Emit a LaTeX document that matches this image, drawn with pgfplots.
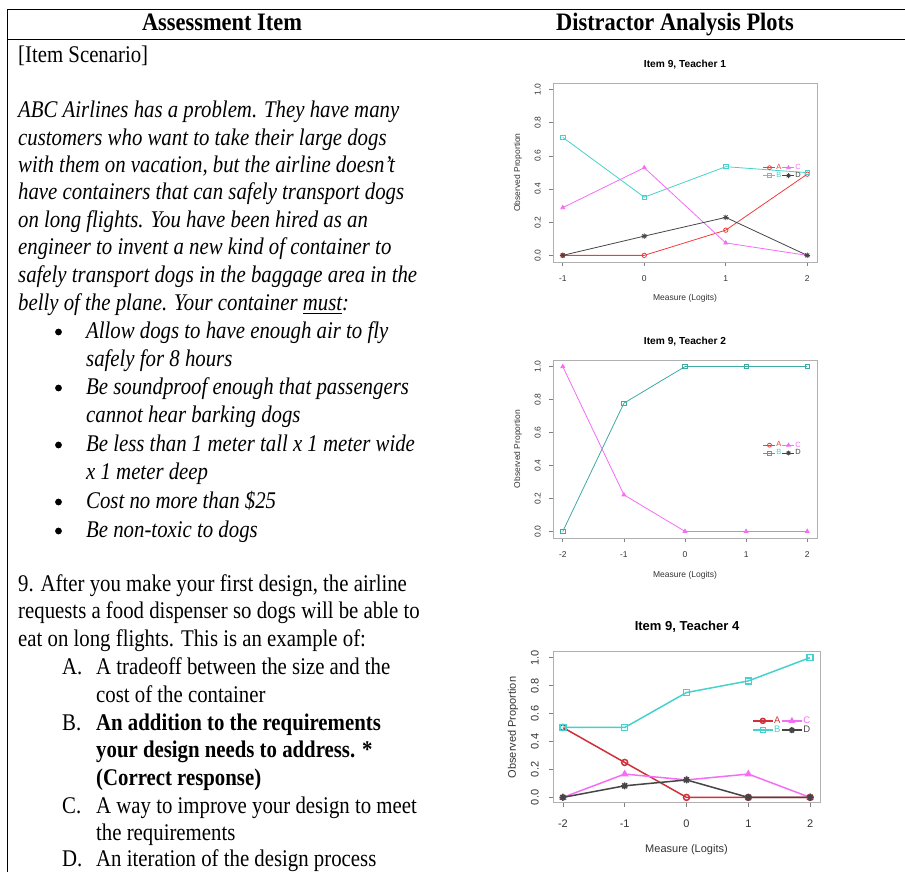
\documentclass[border=0pt]{standalone}
\usepackage{pgfplots}
\pgfplotsset{compat=1.18}
\usepackage{fontspec}
\setmainfont{Liberation Serif}
\setsansfont{Liberation Sans}

\definecolor{colA}{HTML}{F03C3C}
\definecolor{colAdark}{HTML}{D0303A}
\definecolor{colB}{HTML}{45D2CC}
\definecolor{colBdark}{HTML}{3FAAA2}
\definecolor{colC}{HTML}{F56CF5}
\definecolor{colD}{HTML}{454545}
\definecolor{boxgray}{HTML}{B0B0B0}
\definecolor{tickgray}{HTML}{808080}
\definecolor{labgray}{HTML}{333333}

% R-style asterisk (pch = 8)
\pgfdeclareplotmark{rstar}{%
  \pgfpathmoveto{\pgfqpoint{-\pgfplotmarksize}{0pt}}\pgfpathlineto{\pgfqpoint{\pgfplotmarksize}{0pt}}%
  \pgfpathmoveto{\pgfqpoint{0pt}{-\pgfplotmarksize}}\pgfpathlineto{\pgfqpoint{0pt}{\pgfplotmarksize}}%
  \pgfpathmoveto{\pgfqpoint{-0.707\pgfplotmarksize}{-0.707\pgfplotmarksize}}\pgfpathlineto{\pgfqpoint{0.707\pgfplotmarksize}{0.707\pgfplotmarksize}}%
  \pgfpathmoveto{\pgfqpoint{-0.707\pgfplotmarksize}{0.707\pgfplotmarksize}}\pgfpathlineto{\pgfqpoint{0.707\pgfplotmarksize}{-0.707\pgfplotmarksize}}%
  \pgfusepathqstroke}

\newcommand{\T}[1]{\scalebox{1}[1.15]{#1}}
\newcommand{\bodyfont}{\fontsize{20.8}{25}\selectfont}

\pgfplotsset{
  rplot/.style={
    scale only axis,
    axis line style={boxgray, line width=0.8pt},
    tick style={color=tickgray, line width=0.6pt},
    tick align=outside,
    tick pos=left,
    major tick length=4pt,
    ymin=-0.04, ymax=1.04,
    ytick={0,0.2,0.4,0.6,0.8,1.0},
    tick label style={text=labgray},
    yticklabel style={/pgf/number format/fixed, /pgf/number format/fixed zerofill,
      /pgf/number format/precision=1, /pgf/number format/assume math mode=true},
    xticklabel style={/pgf/number format/assume math mode=true},
    yticklabel style={rotate=90, anchor=south, inner sep=0pt},
    xticklabel style={anchor=north, inner sep=0pt},
    label style={text=labgray},
    title style={text=black, yshift=-8pt, anchor=center},
    legend style={draw=none, fill=none, inner sep=0pt, text=black,
      nodes={inner sep=0.6pt}},
    legend columns=2,
    clip=false,
  },
}

\begin{document}
\begin{tikzpicture}
\path[use as bounding box] (0pt,0pt) rectangle (905pt,872pt);

% table rules
\draw[line width=1pt] (7pt,862pt) -- (905pt,862pt);
\draw[line width=1pt] (7pt,832pt) -- (905pt,832pt);
\draw[line width=1pt] (7pt,862pt) -- (7pt,0pt);

\begin{scope}[x=1pt, y=1pt, every node/.style={inner sep=0pt}]
% header
\node[anchor=base] at (222,841) {\scalebox{1}[1.12]{\fontsize{22.4}{26}\selectfont\bfseries Assessment Item}};
\node[anchor=base] at (675,841) {\scalebox{1}[1.12]{\fontsize{22.4}{26}\selectfont\bfseries Distractor Analysis Plots}};

% scenario
\node[anchor=base west] at (18,809) {\T{\bodyfont [Item Scenario]}};
\node[anchor=base west] at (18,754) {\T{\bodyfont\itshape ABC Airlines has a problem. They have many}};
\node[anchor=base west] at (18,726) {\T{\bodyfont\itshape customers who want to take their large dogs}};
\node[anchor=base west] at (18,699) {\T{\bodyfont\itshape with them on vacation, but the airline doesn’t}};
\node[anchor=base west] at (18,672) {\T{\bodyfont\itshape have containers that can safely transport dogs}};
\node[anchor=base west] at (18,644) {\T{\bodyfont\itshape on long flights. You have been hired as an}};
\node[anchor=base west] at (18,617) {\T{\bodyfont\itshape engineer to invent a new kind of container to}};
\node[anchor=base west] at (18,589) {\T{\bodyfont\itshape safely transport dogs in the baggage area in the}};
\node[anchor=base west] at (18,561) {\T{\bodyfont\itshape belly of the plane. Your container \underline{must}:}};

% requirements
\foreach \yy in {540,484,427,370,341}
  \fill (58.5pt,\yy pt) circle (3.4pt);
\node[anchor=base west] at (86,533) {\T{\bodyfont\itshape Allow dogs to have enough air to fly}};
\node[anchor=base west] at (86,505) {\T{\bodyfont\itshape safely for 8 hours}};
\node[anchor=base west] at (86,477) {\T{\bodyfont\itshape Be soundproof enough that passengers}};
\node[anchor=base west] at (86,449) {\T{\bodyfont\itshape cannot hear barking dogs}};
\node[anchor=base west] at (86,420) {\T{\bodyfont\itshape Be less than 1 meter tall x 1 meter wide}};
\node[anchor=base west] at (86,392) {\T{\bodyfont\itshape x 1 meter deep}};
\node[anchor=base west] at (86,363) {\T{\bodyfont\itshape Cost no more than \$25}};
\node[anchor=base west] at (86,334) {\T{\bodyfont\itshape Be non-toxic to dogs}};

% question
\node[anchor=base west] at (18,280) {\T{\bodyfont 9. After you make your first design, the airline}};
\node[anchor=base west] at (18,253) {\T{\bodyfont requests a food dispenser so dogs will be able to}};
\node[anchor=base west] at (18,225) {\T{\bodyfont eat on long flights. This is an example of:}};

% options
\node[anchor=base west] at (62,197) {\T{\bodyfont A.}};
\node[anchor=base west] at (96,197) {\T{\bodyfont A tradeoff between the size and the}};
\node[anchor=base west] at (96,169) {\T{\bodyfont cost of the container}};
\node[anchor=base west] at (62,141) {\T{\bodyfont B.}};
\node[anchor=base west] at (96,141) {\T{\bodyfont\bfseries An addition to the requirements}};
\node[anchor=base west] at (96,114) {\T{\bodyfont\bfseries your design needs to address. *}};
\node[anchor=base west] at (96,86) {\T{\bodyfont\bfseries (Correct response)}};
\node[anchor=base west] at (62,58) {\T{\bodyfont C.}};
\node[anchor=base west] at (96,58) {\T{\bodyfont A way to improve your design to meet}};
\node[anchor=base west] at (96,31) {\T{\bodyfont the requirements}};
\node[anchor=base west] at (62,5.5) {\T{\bodyfont D.}};
\node[anchor=base west] at (96,5.5) {\T{\bodyfont An iteration of the design process}};
\end{scope}

% ---------- Item 9, Teacher 1 ----------
\begin{axis}[rplot,
  at={(553pt,610pt)}, anchor=south west, width=264pt, height=179pt,
  xmin=-1.12, xmax=2.12, xtick={-1,0,1,2},
  tick label style={font=\sffamily\fontsize{8.5}{9}\selectfont},
  label style={font=\sffamily\fontsize{8.5}{9}\selectfont},
  title style={font=\sffamily\bfseries\fontsize{10.2}{11}\selectfont, at={(axis description cs:0.5,1.112)}},
  title={Item 9, Teacher 1},
  xlabel={Measure (Logits)}, ylabel={Observed Proportion},
  xlabel style={at={(axis description cs:0.5,-0.201)}, anchor=center},
  ylabel style={at={(axis description cs:-0.1326,0.5)}, anchor=center},
  xticklabel shift=9pt, yticklabel shift=8pt,
  legend style={at={(axis description cs:0.795,0.55)}, anchor=north west,
    font=\sffamily\fontsize{7.5}{8}\selectfont},
  legend image code/.code={\draw[mark repeat=2,mark phase=2] plot coordinates {(0pt,0pt)(6pt,0pt)(12pt,0pt)};},
  every axis plot/.append style={line width=0.8pt, mark size=2.2pt, mark options={solid}},
]
\addplot[colA, mark=o, forget plot] coordinates {(-1,0) (0,0) (1,0.152) (2,0.49)};
\addplot[colB, mark=square, forget plot] coordinates {(-1,0.712) (0,0.351) (1,0.535) (2,0.499)};
\addplot[colC, mark=triangle*, forget plot] coordinates {(-1,0.288) (0,0.529) (1,0.075) (2,0)};
\addplot[colD, mark=rstar, mark size=2.8pt, forget plot] coordinates {(-1,0) (0,0.116) (1,0.229) (2,0)};
\addlegendimage{colA, mark=o, line width=0.8pt, mark size=2pt}
\addlegendentry{\textcolor{colA}{A}}
\addlegendimage{colC, mark=triangle*, line width=0.8pt, mark size=2pt}
\addlegendentry{\textcolor{colC}{C}}
\addlegendimage{colB, mark=square, line width=0.8pt, mark size=2pt}
\addlegendentry{\textcolor{colB}{B}}
\addlegendimage{colD, mark=rstar, line width=0.8pt, mark size=2.4pt}
\addlegendentry{\textcolor{colD}{D}}
\end{axis}

% ---------- Item 9, Teacher 2 ----------
\begin{axis}[rplot,
  at={(553pt,334pt)}, anchor=south west, width=264pt, height=178pt,
  xmin=-2.16, xmax=2.16, xtick={-2,-1,0,1,2},
  tick label style={font=\sffamily\fontsize{8.5}{9}\selectfont},
  label style={font=\sffamily\fontsize{8.5}{9}\selectfont},
  title style={font=\sffamily\bfseries\fontsize{10.2}{11}\selectfont, at={(axis description cs:0.5,1.112)}},
  title={Item 9, Teacher 2},
  xlabel={Measure (Logits)}, ylabel={Observed Proportion},
  xlabel style={at={(axis description cs:0.5,-0.208)}, anchor=center},
  ylabel style={at={(axis description cs:-0.1326,0.5)}, anchor=center},
  xticklabel shift=9pt, yticklabel shift=8pt,
  legend style={at={(axis description cs:0.795,0.545)}, anchor=north west,
    font=\sffamily\fontsize{7.5}{8}\selectfont},
  legend image code/.code={\draw[mark repeat=2,mark phase=2] plot coordinates {(0pt,0pt)(6pt,0pt)(12pt,0pt)};},
  every axis plot/.append style={line width=0.8pt, mark size=2.2pt, mark options={solid}},
]
\addplot[colBdark, mark=square, forget plot] coordinates {(-2,0) (-1,0.778) (0,1) (1,1) (2,1)};
\addplot[colC, mark=triangle*, forget plot] coordinates {(-2,1) (-1,0.222) (0,0) (1,0) (2,0)};
\addlegendimage{colA, mark=o, line width=0.8pt, mark size=2pt}
\addlegendentry{\textcolor{colA}{A}}
\addlegendimage{colC, mark=triangle*, line width=0.8pt, mark size=2pt}
\addlegendentry{\textcolor{colC}{C}}
\addlegendimage{colBdark, mark=square, line width=0.8pt, mark size=2pt}
\addlegendentry{\textcolor{colB}{B}}
\addlegendimage{colD, mark=rstar, line width=0.8pt, mark size=2.4pt}
\addlegendentry{\textcolor{colD}{D}}
\end{axis}

% ---------- Item 9, Teacher 4 ----------
\begin{axis}[rplot,
  at={(553pt,69pt)}, anchor=south west, width=267pt, height=151pt,
  xmin=-2.16, xmax=2.16, xtick={-2,-1,0,1,2},
  tick label style={font=\sffamily\fontsize{11}{12}\selectfont},
  label style={font=\sffamily\fontsize{11}{12}\selectfont},
  title style={font=\sffamily\bfseries\fontsize{13}{14}\selectfont, at={(axis description cs:0.502,1.179)}},
  title={Item 9, Teacher 4},
  xlabel={Measure (Logits)}, ylabel={Observed Proportion},
  xlabel style={at={(axis description cs:0.5,-0.31)}, anchor=center},
  ylabel style={at={(axis description cs:-0.15,0.5)}, anchor=center},
  xticklabel shift=13pt, yticklabel shift=10pt,
  axis line style={boxgray, line width=1pt},
  legend style={at={(axis description cs:0.745,0.576)}, anchor=north west,
    font=\sffamily\fontsize{9.5}{10}\selectfont},
  legend image code/.code={\draw[mark repeat=2,mark phase=2] plot coordinates {(0pt,0pt)(10pt,0pt)(20pt,0pt)};},
  every axis plot/.append style={line width=1.5pt, mark size=3pt, mark options={solid}},
]
\addplot[colAdark, mark=o, forget plot] coordinates {(-2,0.5) (-1,0.25) (0,0) (1,0) (2,0)};
\addplot[colB, mark=square, forget plot] coordinates {(-2,0.5) (-1,0.5) (0,0.75) (1,0.833) (2,1)};
\addplot[colC, mark=triangle*, forget plot] coordinates {(-2,0) (-1,0.167) (0,0.125) (1,0.167) (2,0)};
\addplot[colD, mark=rstar, mark size=3.5pt, forget plot] coordinates {(-2,0) (-1,0.083) (0,0.125) (1,0) (2,0)};
\addlegendimage{colAdark, mark=o, line width=1.5pt, mark size=2.5pt}
\addlegendentry{\textcolor{colAdark}{A}}
\addlegendimage{colC, mark=triangle*, line width=1.5pt, mark size=2.5pt}
\addlegendentry{\textcolor{colC}{C}}
\addlegendimage{colB, mark=square, line width=1.5pt, mark size=2.5pt}
\addlegendentry{\textcolor{colB}{B}}
\addlegendimage{colD, mark=rstar, line width=1.5pt, mark size=3pt}
\addlegendentry{\textcolor{colD}{D}}
\end{axis}
\end{tikzpicture}
\end{document}
